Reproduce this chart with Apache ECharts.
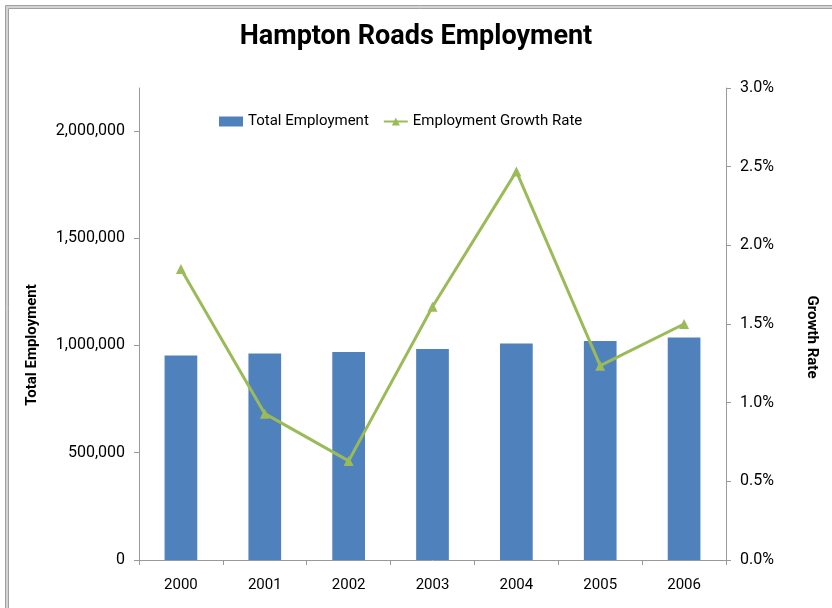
<!DOCTYPE html>
<html>
<head>
<meta charset="utf-8">
<script src="https://cdn.jsdelivr.net/npm/echarts@6/dist/echarts.min.js"></script>
<style>
html,body{margin:0;padding:0;background:#fff;}
#chart{width:832px;height:608px;}
</style>
</head>
<body>
<div id="chart"></div>
<script>
const years = ['2000','2001','2002','2003','2004','2005','2006'];
const totalEmployment = [953000, 962000, 969000, 984000, 1009000, 1021000, 1037000];
const growthRate = [1.85, 0.93, 0.63, 1.61, 2.47, 1.235, 1.50];
const leftTicks = [0, 500000, 1000000, 1500000, 2000000];
const rightTicks = [0, 0.5, 1.0, 1.5, 2.0, 2.5, 3.0];

const FONT = 'Roboto';
const chart = echarts.init(document.getElementById('chart'));
chart.setOption({
  backgroundColor: '#fff',
  animation: false,
  textStyle: {fontFamily: FONT},
  title: {
    text: 'Hampton Roads Employment',
    left: 'center',
    top: 19,
    textStyle: {fontFamily: FONT, fontSize: 27, fontWeight: 'bold', color: '#000'}
  },
  legend: {
    left: 214,
    top: 109,
    itemWidth: 24,
    itemHeight: 10,
    itemGap: 14,
    textStyle: {fontFamily: FONT, fontSize: 15, color: '#000'},
    data: [
      {name: 'Total Employment', icon: 'rect'},
      {name: 'Employment Growth Rate'}
    ]
  },
  grid: {left: 139, right: 106, top: 88, bottom: 48},
  xAxis: {
    type: 'category',
    data: years,
    axisLine: {lineStyle: {color: '#999'}},
    axisTick: {show: true, length: 5, lineStyle: {color: '#999'}},
    axisLabel: {color: '#000', fontSize: 15, margin: 18, fontFamily: FONT}
  },
  yAxis: [
    {
      type: 'value',
      min: 0,
      max: 2200000,
      interval: 500000,
      splitLine: {show: false},
      axisLine: {show: true, lineStyle: {color: '#999'}},
      axisTick: {show: true, length: 5, customValues: leftTicks, lineStyle: {color: '#999'}},
      axisLabel: {
        color: '#000', fontSize: 16, margin: 14, fontFamily: FONT,
        customValues: leftTicks,
        formatter: v => v.toLocaleString('en-US')
      }
    },
    {
      type: 'value',
      min: 0,
      max: 3.0,
      interval: 0.5,
      position: 'right',
      splitLine: {show: false},
      axisLine: {show: true, lineStyle: {color: '#999'}},
      axisTick: {show: true, length: 5, customValues: rightTicks, lineStyle: {color: '#999'}},
      axisLabel: {
        color: '#000', fontSize: 16, margin: 14, fontFamily: FONT,
        customValues: rightTicks,
        formatter: v => v.toFixed(1) + '%'
      }
    }
  ],
  series: [
    {
      name: 'Total Employment',
      type: 'bar',
      data: totalEmployment,
      barWidth: '39%',
      itemStyle: {color: '#4F81BD'}
    },
    {
      name: 'Employment Growth Rate',
      type: 'line',
      yAxisIndex: 1,
      data: growthRate,
      symbol: 'triangle',
      symbolSize: 10,
      lineStyle: {color: '#9BBB59', width: 3},
      itemStyle: {color: '#9BBB59'}
    }
  ],
  graphic: [
    {type: 'rect', shape: {x: 5.5, y: 5.5, width: 900, height: 700}, style: {fill: null, stroke: '#a0a0a0', lineWidth: 1}, silent: true},
    {type: 'rect', shape: {x: 7, y: 7, width: 900, height: 700}, style: {fill: null, stroke: '#d4d4d4', lineWidth: 2}, silent: true},
    {type: 'rect', shape: {x: 8.5, y: 8.5, width: 900, height: 700}, style: {fill: null, stroke: '#a0a0a0', lineWidth: 1}, silent: true},
    {
      type: 'text', x: 32, y: 345, rotation: Math.PI / 2,
      style: {text: 'Total Employment', fontFamily: FONT, fontSize: 15, fontWeight: 'bold', fill: '#000', align: 'center', verticalAlign: 'middle'}
    },
    {
      type: 'text', x: 812, y: 337, rotation: -Math.PI / 2,
      style: {text: 'Growth Rate', fontFamily: FONT, fontSize: 15, fontWeight: 'bold', fill: '#000', align: 'center', verticalAlign: 'middle'}
    }
  ]
});
</script>
</body>
</html>
